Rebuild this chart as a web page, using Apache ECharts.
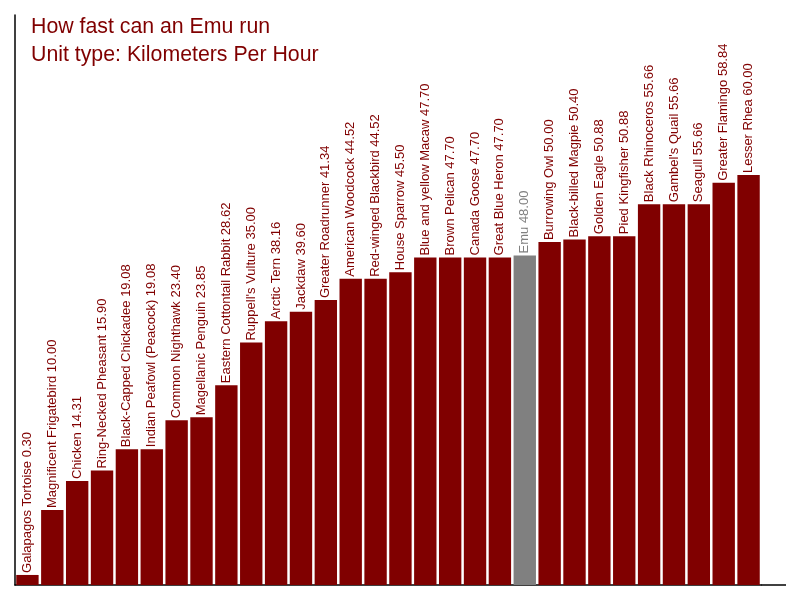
<!DOCTYPE html>
<html lang="en">
<head>
<meta charset="UTF-8">
<title>How fast can an Emu run</title>
<script src="https://cdn.jsdelivr.net/npm/echarts@6/dist/echarts.min.js"></script>
<style>
	html, body { margin: 0; padding: 0; background: #fff; }
	#chart { width: 800px; height: 600px; }
</style>
</head>
<body>
<div id="chart"></div>
<script>
// animals and their top speed (km/h)
var animals = ['Galapagos Tortoise', 'Magnificent Frigatebird', 'Chicken', 'Ring-Necked Pheasant',
	'Black-Capped Chickadee', 'Indian Peafowl (Peacock)', 'Common Nighthawk', 'Magellanic Penguin',
	'Eastern Cottontail Rabbit', "Ruppell's Vulture", 'Arctic Tern', 'Jackdaw', 'Greater Roadrunner',
	'American Woodcock', 'Red-winged Blackbird', 'House Sparrow', 'Blue and yellow Macaw', 'Brown Pelican',
	'Canada Goose', 'Great Blue Heron', 'Emu', 'Burrowing Owl', 'Black-billed Magpie', 'Golden Eagle',
	'Pied Kingfisher', 'Black Rhinoceros', "Gambel's Quail", 'Seagull', 'Greater Flamingo', 'Lesser Rhea'];
var speeds = [0.30, 10.00, 14.31, 15.90, 19.08, 19.08, 23.40, 23.85, 28.62, 35.00, 38.16, 39.60, 41.34,
	44.52, 44.52, 45.50, 47.70, 47.70, 47.70, 47.70, 48.00, 50.00, 50.40, 50.88, 50.88, 55.66, 55.66,
	55.66, 58.84, 60.00];
var highlight = 'Emu';

var red = '#800000', grey = '#808080';

var data = [];
for (var i = 0; i < animals.length; i++) {
	var c = animals[i] == highlight ? grey : red;
	data.push({
		value: speeds[i],
		itemStyle: { color: c },
		label: { color: c }
	});
}

var chart = echarts.init(document.getElementById('chart'));
var option = {
	animation: false,
	title: {
		text: 'How fast can an Emu run\nUnit type: Kilometers Per Hour',
		left: 26,
		top: 8,
		textStyle: {
			fontFamily: 'Liberation Sans, Arial',
			fontSize: 21.3,
			fontWeight: 'normal',
			lineHeight: 28,
			color: red
		}
	},
	grid: { left: 15, right: 39, top: 15, bottom: 15 },
	xAxis: {
		type: 'category',
		data: animals,
		axisLine: { onZero: false, lineStyle: { color: '#000', width: 1.5 } },
		axisTick: { show: false },
		axisLabel: { show: false }
	},
	yAxis: {
		type: 'value',
		min: -1.2,
		max: 83.9,
		startValue: -1.2, // bars grow from the bottom of the axis
		axisLine: { show: true, lineStyle: { color: '#000', width: 1.5 } },
		axisTick: { show: false },
		axisLabel: { show: false },
		splitLine: { show: false }
	},
	// x axis line runs a little past the last bar
	graphic: [{
		type: 'line',
		shape: { x1: 761, y1: 585, x2: 786, y2: 585 },
		style: { stroke: '#000', lineWidth: 1.5 }
	}],
	series: [{
		type: 'bar',
		data: data,
		barCategoryGap: '10%',
		label: {
			show: true,
			position: 'top',
			rotate: 90,
			align: 'left',
			verticalAlign: 'middle',
			distance: 2,
			fontFamily: 'Liberation Sans, Arial',
			fontSize: 13,
			formatter: function (p) {
				return p.name + ' ' + p.value.toFixed(2);
			}
		}
	}]
};
chart.setOption(option);
</script>
</body>
</html>
